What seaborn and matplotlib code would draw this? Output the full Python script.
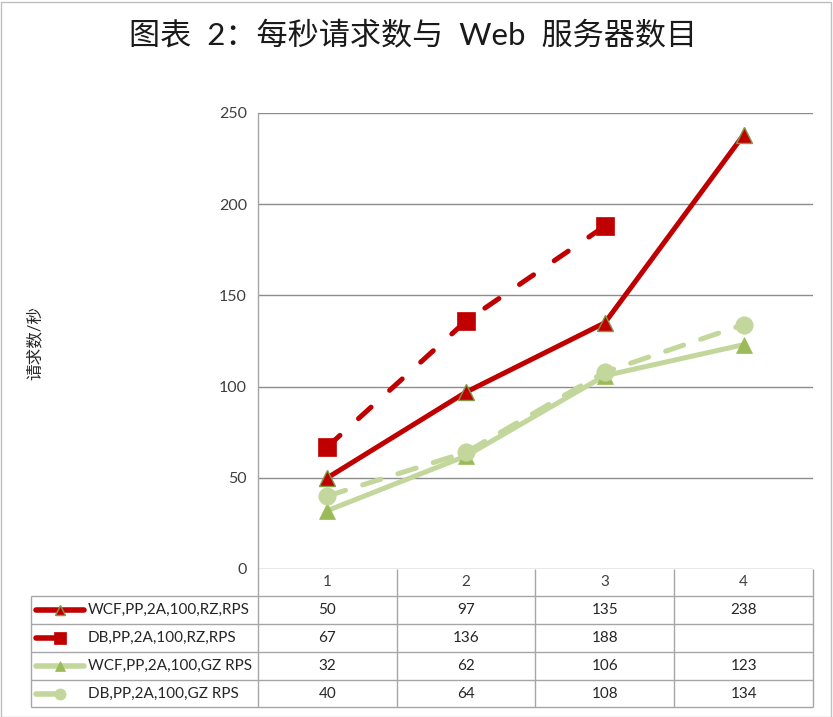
import numpy as np
import pandas as pd
import matplotlib
matplotlib.use("Agg")
import matplotlib.pyplot as plt
from matplotlib.patches import Rectangle
import seaborn as sns

# ---------------- data ----------------
title = "图表  2：每秒请求数与  Web  服务器数目"
ylabel = "请求数/秒"
categories = [1, 2, 3, 4]
series_names = ["WCF,PP,2A,100,RZ,RPS", "DB,PP,2A,100,RZ,RPS",
                "WCF,PP,2A,100,GZ RPS", "DB,PP,2A,100,GZ RPS"]
wcf_rz = [50, 97, 135, 238]
db_rz = [67, 136, 188, None]
wcf_gz = [32, 62, 106, 123]
db_gz = [40, 64, 108, 134]
yticks = [0, 50, 100, 150, 200, 250]

# ---------------- style ----------------
sns.set_style("white")
plt.rcParams["font.family"] = ["Lato", "Noto Sans CJK SC", "DejaVu Sans"]

W, H = 833, 717
fig = plt.figure(figsize=(W / 100, H / 100), dpi=100)
fig.patch.set_facecolor("white")

RED = "#C00000"
RED_EDGE = "#7F9A48"
GREEN_LINE = "#C3D69B"
GREEN_TRI = "#9BBB59"
GRID = "#8C8C8C"
BORDER = "#A6A6A6"
TXT = "#262626"

styles = [
    dict(color=RED, marker="^", markersize=11, markerfacecolor=RED, markeredgecolor=RED_EDGE,
         markeredgewidth=1.0, linestyle="-"),
    dict(color=RED, marker="s", markersize=12.5, markerfacecolor=RED, markeredgecolor=RED,
         markeredgewidth=0.5, linestyle=(0, (3.4, 5.0)), dash_capstyle="round"),
    dict(color=GREEN_LINE, marker="^", markersize=11, markerfacecolor=GREEN_TRI, markeredgecolor=GREEN_TRI,
         markeredgewidth=0.5, linestyle="-"),
    dict(color=GREEN_LINE, marker="o", markersize=12.5, markerfacecolor=GREEN_LINE, markeredgecolor=GREEN_LINE,
         markeredgewidth=0.5, linestyle=(0, (3.8, 3.6)), dash_capstyle="round"),
]
key_sizes = [7.5, 8.0, 7.5, 8.0]
values = [wcf_rz, db_rz, wcf_gz, db_gz]

L, R, T, B = 258, 813, 113, 569
ax = fig.add_axes([L / W, (H - B) / H, (R - L) / W, (B - T) / H])
ax.set_facecolor("none")

for name, vals, st in zip(series_names, values, styles):
    df = pd.DataFrame({"x": categories, "y": [np.nan if v is None else v for v in vals]}).dropna()
    sns.lineplot(data=df, x="x", y="y", ax=ax, linewidth=3.6, solid_capstyle="round",
                 legend=False, **st)

ax.set_xlim(0.5, 4.5)
ax.set_ylim(0, 250)
ax.set_yticks(yticks)
ax.set_yticklabels([str(t) for t in yticks], fontsize=11.5, color="#404040")
ax.set_xticks([])
ax.set_xlabel("")
ax.set_ylabel("")
ax.tick_params(axis="y", length=0, pad=8)
ax.yaxis.grid(True, color=GRID, linewidth=1.0)
ax.set_axisbelow(True)
for s in ["top", "right", "bottom"]:
    ax.spines[s].set_visible(False)
ax.spines["left"].set_color(BORDER)
ax.spines["left"].set_linewidth(1.0)

# ---------------- overlay for table ----------------
tab = fig.add_axes([0, 0, 1, 1])
tab.set_xlim(0, W)
tab.set_ylim(H, 0)
tab.set_autoscale_on(False)
tab.axis("off")
tab.patch.set_alpha(0)

def xpix(c):
    return ax.transData.transform([[c, 0]])[0, 0]

rows_y = [569, 596, 624, 652, 680, 707]
left_tab = 31
col_edges = [xpix(c - 0.5) for c in categories] + [xpix(categories[-1] + 0.5)]

lw = 1.0
for x in col_edges:
    tab.plot([x, x], [rows_y[0], rows_y[-1]], color=BORDER, lw=lw, solid_capstyle="butt")
tab.plot([left_tab, left_tab], [rows_y[1], rows_y[-1]], color=BORDER, lw=lw, solid_capstyle="butt")
for y in rows_y[1:]:
    tab.plot([left_tab, col_edges[-1]], [y, y], color=BORDER, lw=lw, solid_capstyle="butt")

for c in categories:
    tab.text(xpix(c), (rows_y[0] + rows_y[1]) / 2, str(c), ha="center", va="center",
             fontsize=11, color="#404040")

for i, (name, vals, st, ks) in enumerate(zip(series_names, values, styles, key_sizes)):
    yc = (rows_y[i + 1] + rows_y[i + 2]) / 2
    for c, v in zip(categories, vals):
        if v is not None:
            tab.text(xpix(c), yc, str(v), ha="center", va="center", fontsize=11, color=TXT)
    tab.text(88, yc, name, ha="left", va="center", fontsize=11, color=TXT)
    x_end = 84 if st["linestyle"] == "-" else 58
    tab.plot([36, x_end], [yc, yc], color=st["color"], lw=4.0, solid_capstyle="round")
    tab.plot([60], [yc], marker=st["marker"], markersize=ks,
             markerfacecolor=st["markerfacecolor"], markeredgecolor=st["markeredgecolor"],
             markeredgewidth=st["markeredgewidth"], linestyle="none")

fig.text(413 / W, 1 - 35 / H, title, ha="center", va="center", fontsize=22.4, color="#1a1a1a")
fig.text(35 / W, 1 - 343 / H, ylabel, ha="center", va="center", rotation=90, fontsize=12,
         color=TXT)

fig.patches.append(Rectangle((0.5 / W, 0.5 / H), 1 - 2.5 / W, 1 - 2 / H, transform=fig.transFigure,
                             fill=False, edgecolor="#BFBFBF", linewidth=1.0))

fig.savefig("out.png", dpi=100)
